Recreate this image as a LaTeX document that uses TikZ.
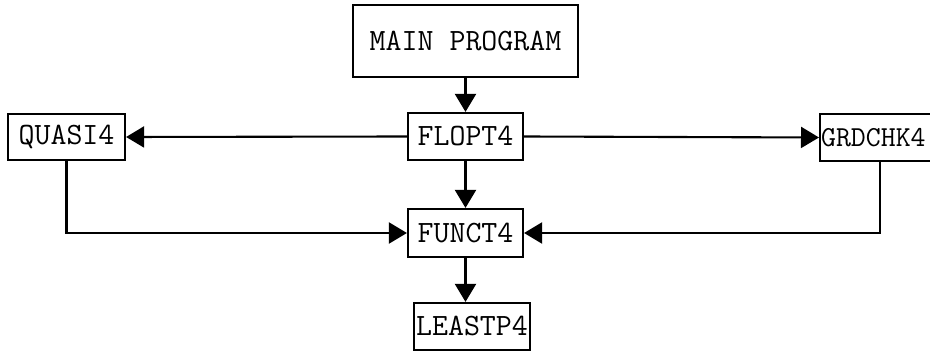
\documentclass[tikz,border=0pt]{standalone}
\usetikzlibrary{arrows.meta}
\begin{document}
\begin{tikzpicture}[x=1pt,y=-1pt,
  box/.style={draw,line width=2.2pt,inner sep=0pt,font=\ttfamily\fontsize{31}{36}\selectfont},
  conn/.style={line width=2.1pt},
  arr/.style={conn,-{Triangle[length=18pt,width=21pt]}}]
\useasboundingbox[fill=white] (0,0) rectangle (930,352);
\node[box,minimum width=225,minimum height=72] (main) at (465.5,41) {MAIN PROGRAM};
\node[box,minimum width=115,minimum height=47] (flopt) at (465.5,136.5) {FLOPT4};
\node[box,minimum width=117,minimum height=46] (quasi) at (66.5,137) {QUASI4};
\node[box,minimum width=122,minimum height=47,text width=120,align=left,anchor=west,font=\ttfamily\fontsize{29}{34}\selectfont] (grd) at (819,137.5) {GRDCHK4};
\node[box,minimum width=115,minimum height=48] (funct) at (465.5,233) {FUNCT4};
\node[box,minimum width=116,minimum height=47] (least) at (472,326.5) {LEASTP4};
\coordinate (qc) at (quasi.south |- funct.west);
\coordinate (gtop) at (880,0 |- grd.south);
\coordinate (gc) at (gtop |- funct.east);
\draw[arr] (main.south) -- (flopt.north);
\draw[arr] (flopt.west) -- (quasi.east);
\draw[arr] (flopt.east) -- (grd.west);
\draw[arr] (flopt.south) -- (funct.north);
\draw[arr] (quasi.south) -- (qc) -- (funct.west);
\draw[arr] (gtop) -- (gc) -- (funct.east);
\draw[arr] (funct.south) -- (funct.south |- least.north);
\end{tikzpicture}
\end{document}
